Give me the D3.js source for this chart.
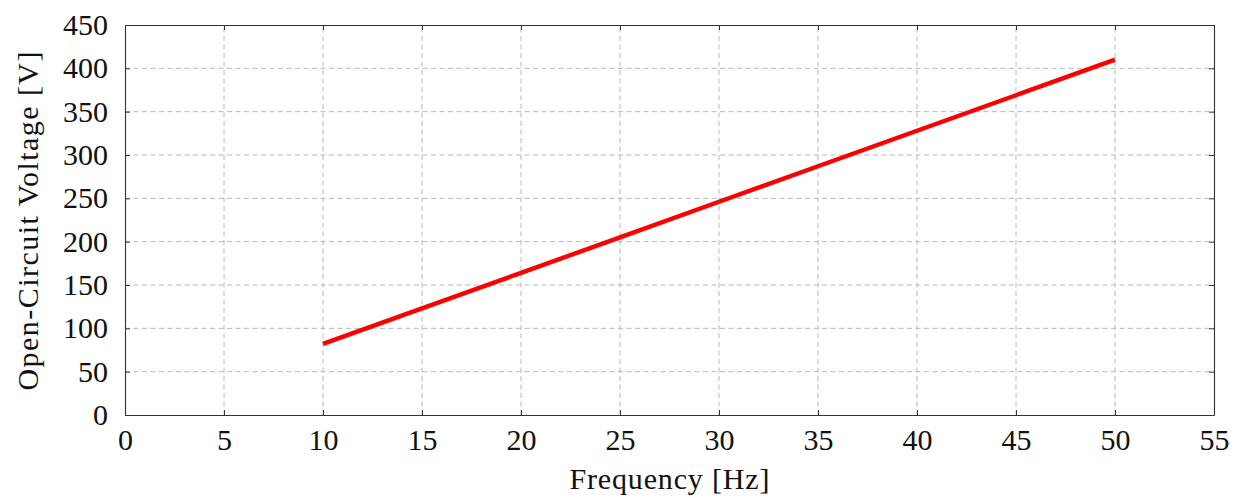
<!DOCTYPE html>
<html><head><meta charset="utf-8">
<script src="https://cdn.jsdelivr.net/npm/d3@7"></script>
<style>body{margin:0;background:#fff}svg{display:block}</style>
</head><body>
<svg id="chart" width="1234" height="498"></svg>
<script>
const frequency = [10, 15, 20, 25, 30, 35, 40, 45, 50];
const voltage = [82, 123, 164, 205, 246, 287, 328, 369, 410];
const xTicks = [0, 5, 10, 15, 20, 25, 30, 35, 40, 45, 50, 55];
const yTicks = [0, 50, 100, 150, 200, 250, 300, 350, 400, 450];
const xLabel = "Frequency [Hz]";
const yLabel = "Open-Circuit Voltage [V]";

const font = "'Liberation Serif', 'Times New Roman', serif";
const svg = d3.select("#chart");
const L = 125, R = 1214, T = 25, B = 415;
const x = d3.scaleLinear().domain([0, 55]).range([L, R]);
const y = d3.scaleLinear().domain([0, 450]).range([B, T]);

// grid
const grid = svg.append("g").attr("stroke", "#b8b8b8").attr("stroke-width", 1).attr("stroke-dasharray", "5,3.5");
grid.selectAll("line.v").data(xTicks.filter(d => d > 0 && d < 55)).join("line")
  .attr("x1", d => x(d)).attr("x2", d => x(d)).attr("y1", B).attr("y2", T);
grid.selectAll("line.h").data(yTicks.filter(d => d > 0 && d < 450)).join("line")
  .attr("class","h").attr("x1", L).attr("x2", R).attr("y1", d => y(d)).attr("y2", d => y(d));

// axes
const tickLen = 5;
const xAxB = svg.append("g").attr("transform", `translate(0,${B})`)
  .call(d3.axisBottom(x).tickValues(xTicks).tickSizeInner(-tickLen).tickSizeOuter(0).tickPadding(14));
const xAxT = svg.append("g").attr("transform", `translate(0,${T})`)
  .call(d3.axisTop(x).tickValues(xTicks).tickSizeInner(-tickLen).tickSizeOuter(0).tickFormat(""));
const yAxL = svg.append("g").attr("transform", `translate(${L},0)`)
  .call(d3.axisLeft(y).tickValues(yTicks).tickSizeInner(-tickLen).tickSizeOuter(0).tickPadding(17));
const yAxR = svg.append("g").attr("transform", `translate(${R},0)`)
  .call(d3.axisRight(y).tickValues(yTicks).tickSizeInner(-tickLen).tickSizeOuter(0).tickFormat(""));
[xAxB, xAxT, yAxL, yAxR].forEach(g => {
  g.select(".domain").attr("stroke", "#333").attr("stroke-width", 1.1);
  g.selectAll(".tick line").attr("stroke", "#333").attr("stroke-width", 1);
  g.selectAll("text").attr("font-family", font).attr("font-size", 30).attr("fill", "#111");
});

// line
svg.append("path").datum(frequency.map((f, i) => [f, voltage[i]]))
  .attr("fill", "none").attr("stroke", "#ff0000").attr("stroke-width", 4.4)
  .attr("d", d3.line().x(d => x(d[0])).y(d => y(d[1])));

// labels
svg.append("text").attr("x", (L + R) / 2).attr("y", 489).attr("text-anchor", "middle")
  .attr("font-family", font).attr("font-size", 30).attr("fill", "#111")
  .attr("textLength", 200).attr("lengthAdjust", "spacing").text(xLabel);
svg.append("text").attr("transform", `translate(38,${(T + B) / 2 + 1}) rotate(-90)`).attr("text-anchor", "middle")
  .attr("font-family", font).attr("font-size", 30).attr("fill", "#111")
  .attr("textLength", 339).attr("lengthAdjust", "spacing").text(yLabel);
</script>
</body></html>
